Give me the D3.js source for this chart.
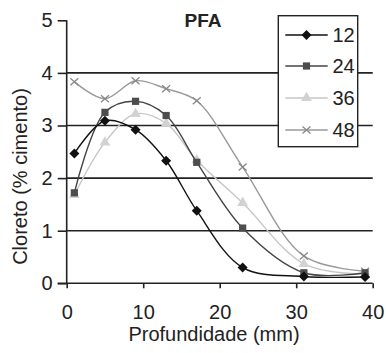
<!DOCTYPE html>
<html>
<head>
<meta charset="utf-8">
<script src="https://cdn.jsdelivr.net/npm/d3@7"></script>
<style>
  body { margin: 0; background: #fff; }
  svg text { font-family: "Liberation Sans", Arial, sans-serif; fill: #222; }
</style>
</head>
<body>
<div id="chart"></div>
<script>
// depth (mm) and chloride content (% cement) per exposure age
var depths = [1, 5, 9, 13, 17, 23, 31, 39];
var s12 = [2.47, 3.09, 2.92, 2.33, 1.38, 0.30, 0.13, 0.12];
var s24 = [1.72, 3.25, 3.46, 3.19, 2.30, 1.05, 0.20, 0.20];
var s36 = [1.68, 2.68, 3.22, 3.04, 2.34, 1.53, 0.37, 0.17];
var s48 = [3.83, 3.51, 3.85, 3.70, 3.47, 2.21, 0.52, 0.23];
var seriesNames = ['12', '24', '36', '48'];
var xTicks = [0, 10, 20, 30, 40];
var yTicks = [0, 1, 2, 3, 4, 5];
var gridTicks = [1, 2, 3, 4];

var width = 386, height = 353;
var plot = {left: 66.7, right: 372.7, top: 20.3, bottom: 283.3};

var xScale = d3.scaleLinear().domain([0, 40]).range([plot.left, plot.right]);
var yScale = d3.scaleLinear().domain([0, 5]).range([plot.bottom, plot.top]);

var styles = [
    {line: '#111', fill: '#111', shape: 'diamond'},
    {line: '#444', fill: '#4d4d4d', shape: 'square'},
    {line: '#c6c6c6', fill: '#d2d2d2', shape: 'triangle'},
    {line: '#999', fill: '#888', shape: 'x'}
];
var allSeries = [s12, s24, s36, s48].map(function(vals, i) {
    return {name: seriesNames[i], style: styles[i],
        points: vals.map(function(v, j) { return {x: depths[j], y: v}; })};
});

var svg = d3.select('#chart').append('svg')
    .attr('width', width)
    .attr('height', height);

// gridlines
svg.append('g').selectAll('line')
    .data(gridTicks)
    .enter().append('line')
    .attr('x1', plot.left).attr('x2', plot.right)
    .attr('y1', function(d) { return yScale(d); })
    .attr('y2', function(d) { return yScale(d); })
    .attr('stroke', '#222').attr('stroke-width', 1.6);

// axes
var yAxis = d3.axisLeft(yScale).tickValues(yTicks).tickFormat(d3.format('d')).tickSize(9).tickPadding(5);
var xAxis = d3.axisBottom(xScale).tickValues(xTicks).tickFormat(d3.format('d')).tickSize(5).tickPadding(17);

var yg = svg.append('g').attr('transform', 'translate(' + plot.left + ',0)').call(yAxis);
var xg = svg.append('g').attr('transform', 'translate(0,' + plot.bottom + ')').call(xAxis);

[xg, yg].forEach(function(g) {
    g.select('.domain').remove();
    g.selectAll('line').attr('stroke', '#222').attr('stroke-width', 1.6);
    g.selectAll('text').style('font-size', '20px').attr('fill', '#222');
});
xg.append('line').attr('x1', plot.left - 9).attr('x2', plot.right)
    .attr('stroke', '#222').attr('stroke-width', 1.6);
yg.append('line').attr('y1', plot.top).attr('y2', plot.bottom)
    .attr('stroke', '#222').attr('stroke-width', 1.6);

// lines
var line = d3.line()
    .x(function(d) { return xScale(d.x); })
    .y(function(d) { return yScale(d.y); })
    .curve(d3.curveCatmullRom);

function marker(sel, shape, color) {
    if (shape === 'x') {
        sel.append('path')
            .attr('d', 'M-4,-3.5L4,3.5M-4,3.5L4,-3.5')
            .attr('stroke', color).attr('stroke-width', 1.3).attr('fill', 'none');
    } else if (shape === 'diamond') {
        sel.append('path').attr('d', 'M0,-5L5,0L0,5L-5,0Z').attr('fill', color);
    } else {
        var type = shape === 'square' ? d3.symbolSquare : d3.symbolTriangle;
        var size = shape === 'square' ? 52 : 50;
        sel.append('path').attr('d', d3.symbol().type(type).size(size)()).attr('fill', color);
    }
}

// draw back to front so black series sits on top
allSeries.slice().reverse().forEach(function(s) {
    var g = svg.append('g');
    g.append('path')
        .attr('d', line(s.points))
        .attr('fill', 'none')
        .attr('stroke', s.style.line)
        .attr('stroke-width', 1.4);
    g.selectAll('.pt').data(s.points).enter().append('g')
        .attr('class', 'pt')
        .attr('transform', function(d) { return 'translate(' + xScale(d.x) + ',' + yScale(d.y) + ')'; })
        .each(function() { marker(d3.select(this), s.style.shape, s.style.fill); });
});

// titles
svg.append('text').attr('x', 203).attr('y', 27)
    .attr('text-anchor', 'middle')
    .style('font-size', '19px').style('font-weight', 'bold')
    .text('PFA');

svg.append('text').attr('x', 214).attr('y', 341)
    .attr('text-anchor', 'middle')
    .style('font-size', '20px')
    .text('Profundidade (mm)');

svg.append('text')
    .attr('transform', 'translate(27,176.5) rotate(-90)')
    .attr('text-anchor', 'middle')
    .style('font-size', '20px')
    .text('Cloreto (% cimento)');

// legend
var legend = svg.append('g');
legend.append('rect')
    .attr('x', 278.3).attr('y', 15.7)
    .attr('width', 79.4).attr('height', 131)
    .attr('fill', '#fff').attr('stroke', '#222').attr('stroke-width', 1.4);

var legendY = [35, 66, 98, 130];
allSeries.forEach(function(s, i) {
    var g = legend.append('g').attr('transform', 'translate(0,' + legendY[i] + ')');
    g.append('line').attr('x1', 285.3).attr('x2', 327.7)
        .attr('stroke', s.style.line).attr('stroke-width', 1.4);
    marker(g.append('g').attr('transform', 'translate(306.5,0)'), s.style.shape, s.style.fill);
    g.append('text').attr('x', 332.5).attr('y', 0).attr('dy', '0.36em')
        .style('font-size', '20px')
        .text(s.name);
});
</script>
</body>
</html>
